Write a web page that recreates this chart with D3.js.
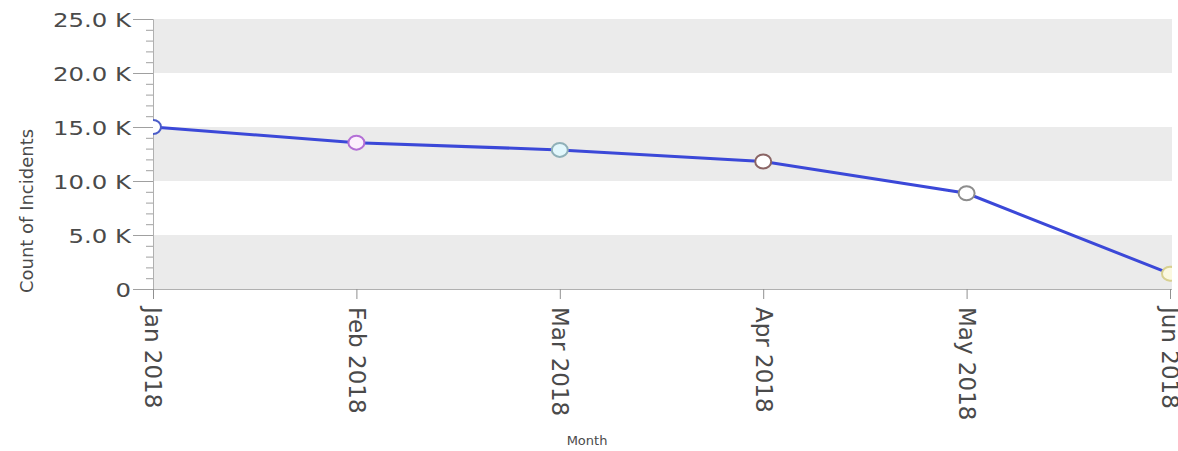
<!DOCTYPE html>
<html><head><meta charset="utf-8">
<script src="https://cdn.jsdelivr.net/npm/d3@7"></script>
<style>
html,body{margin:0;padding:0;background:#fff;}
text{font-family:"DejaVu Sans",Verdana,sans-serif;}
</style></head>
<body><svg id="c" width="1178" height="451"></svg>
<script>
const months = ["Jan 2018","Feb 2018","Mar 2018","Apr 2018","May 2018","Jun 2018"];
const counts = [15000, 13550, 12880, 11800, 8860, 1420];
const yTicks = [0, 5000, 10000, 15000, 20000, 25000];
const yTickLabels = ["0","5.0 K","10.0 K","15.0 K","20.0 K","25.0 K"];
const pointStroke = ["#4a5cc8","#b36fd6","#8fb0b8","#8a6565","#8d8d8d","#d8d090"];
const pointFill = ["#ffffff","#fcf0fd","#e2f7fc","#ffffff","#ffffff","#fbf8e0"];

const svg = d3.select("#c");
const L = 153, R = 1172, T = 19, B = 289;
const x = d3.scalePoint().domain(months).range([L, 1170]);
const y = d3.scaleLinear().domain([0, 25000]).range([B, T]);

// bands
const bands = [[0,5000],[10000,15000],[20000,25000]];
svg.append("g").selectAll("rect").data(bands).join("rect")
  .attr("x", L).attr("width", R - L)
  .attr("y", d => y(d[1])).attr("height", d => y(d[0]) - y(d[1]))
  .attr("fill", "#ebebeb");

// y axis
const yAxis = svg.append("g").attr("transform", `translate(${L},0)`)
  .call(d3.axisLeft(y).tickValues(yTicks).tickSize(20).tickFormat((d,i)=>yTickLabels[i]));
yAxis.select(".domain").attr("stroke", "#b0b0b0");
yAxis.selectAll(".tick line").attr("stroke", "#a0a0a0");
yAxis.selectAll(".tick text").attr("fill", "#4a4a4a").attr("font-size", 20)
  .attr("x", 0).attr("dy", "0.35em")
  .attr("transform", "translate(-22,0) scale(1.22,1)");
const minor = svg.append("g").attr("transform", `translate(${L},0)`)
  .call(d3.axisLeft(y).tickValues(d3.range(0, 25001, 1000).filter(v => v % 5000 !== 0)).tickSize(7).tickFormat(""));
minor.select(".domain").remove();
minor.selectAll(".tick line").attr("stroke", "#a0a0a0");

// x axis
const xAxis = svg.append("g").attr("transform", `translate(0,${B})`)
  .call(d3.axisBottom(x).tickSize(10).tickPadding(0));
xAxis.select(".domain").attr("stroke", "#b0b0b0").attr("d", `M${L},0.5H${R}`);
xAxis.selectAll(".tick line").attr("stroke", "#909090");
xAxis.selectAll(".tick text").attr("fill", "#4a4a4a").attr("font-size", 23)
  .attr("text-anchor", "start").attr("y", 0).attr("dy", "0.35em")
  .attr("transform", "translate(0,18) rotate(90)");

// line
svg.append("clipPath").attr("id", "clip").append("rect")
  .attr("x", L).attr("y", 0).attr("width", R - L).attr("height", B + 2);
const line = d3.line().x((d,i) => x(months[i])).y(d => y(d));
svg.append("path").datum(counts).attr("d", line)
  .attr("fill", "none").attr("stroke", "#3b48d8").attr("stroke-width", 3)
  .attr("clip-path", "url(#clip)");
svg.append("g").attr("clip-path", "url(#clip)").selectAll("ellipse").data(counts).join("ellipse")
  .attr("cx", (d,i) => x(months[i])).attr("cy", d => y(d))
  .attr("rx", 8).attr("ry", 7)
  .attr("fill", (d,i) => pointFill[i]).attr("stroke", (d,i) => pointStroke[i]).attr("stroke-width", 2);

// titles
svg.append("text").attr("transform", "translate(33,211) rotate(-90)")
  .attr("text-anchor", "middle").attr("font-size", 18).attr("fill", "#4a4a4a")
  .text("Count of Incidents");
svg.append("text").attr("x", 587).attr("y", 445).attr("text-anchor", "middle")
  .attr("font-size", 13).attr("fill", "#4a4a4a").text("Month");
</script></body></html>
